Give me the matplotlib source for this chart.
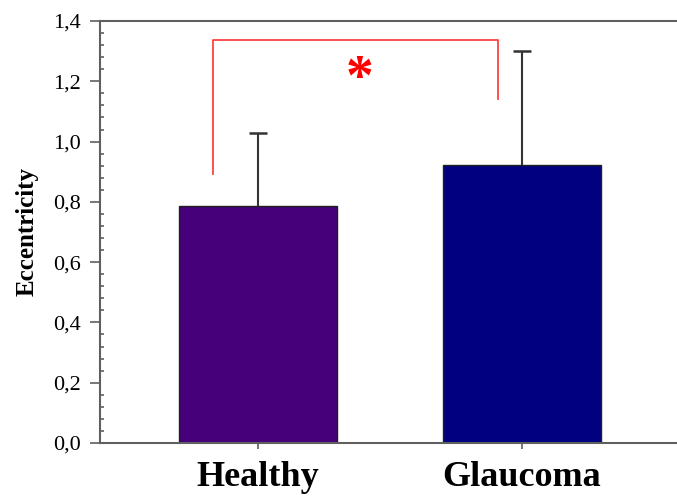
import matplotlib
matplotlib.use("Agg")
import matplotlib.pyplot as plt
from matplotlib.ticker import MultipleLocator, FuncFormatter

categories = ["Healthy", "Glaucoma"]
means = [0.787, 0.923]
sd_upper = [0.243, 0.379]
colors = ["#45007A", "#000080"]

bracket_left_y = 0.892
bracket_right_y = 1.141
bracket_top_y = 1.336
star_y = 1.205

fig = plt.figure(figsize=(6.77, 4.97), dpi=100)
ax = fig.add_axes([100/677, 1-443/497, 1-100/677, (443-21)/497])

x = list(range(len(categories)))
ax.bar(x, means, width=0.6, color=colors, edgecolor="#202020", linewidth=1.0, zorder=2)
tops = [m + s for m, s in zip(means, sd_upper)]
ax.vlines(x, means, tops, color="#333333", linewidth=1.5, zorder=3)
ax.plot(x, tops, linestyle="none", marker="_", markersize=13, markeredgewidth=1.8,
        color="#333333", zorder=3)

# significance bracket
xl = x[0] - 0.17
xr = x[1] - 0.09
ax.plot([xl, xl, xr, xr], [bracket_left_y, bracket_top_y, bracket_top_y, bracket_right_y],
        color="#FF4040", linewidth=1.3, zorder=4)
ax.text(0.386, star_y, "*", color="red", fontsize=40,
        fontweight="bold", family="Liberation Serif", ha="center", va="center")

ax.set_xlim(-0.598, 1.587)
ax.set_ylim(0, 1.4)
ax.yaxis.set_major_locator(MultipleLocator(0.2))
ax.yaxis.set_minor_locator(MultipleLocator(0.04))
ax.yaxis.set_major_formatter(FuncFormatter(lambda v, p: f"{v:.1f}".replace(".", ",")))
ax.tick_params(axis="y", which="major", direction="out", length=7, width=1.2, color="#606060",
               labelsize=16, pad=7)
ax.tick_params(axis="y", which="minor", direction="in", length=3, width=1.2, color="#606060")
ax.set_xticks(x)
ax.set_xticklabels(categories, fontsize=26, fontweight="bold", family="Liberation Serif")
ax.tick_params(axis="x", direction="out", length=4, width=1.2, color="#606060", pad=9)
for lab in ax.get_yticklabels():
    lab.set_family("Liberation Serif")
ax.set_ylabel("Eccentricity", fontsize=18, fontweight="bold", family="Liberation Serif", labelpad=10)

for s in ["left", "top", "bottom"]:
    ax.spines[s].set_color("#606060")
    ax.spines[s].set_linewidth(1.5)
ax.spines["right"].set_visible(False)

fig.savefig("out.png", dpi=100)
